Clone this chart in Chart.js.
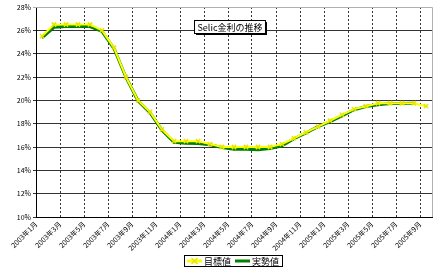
<!DOCTYPE html>
<html>
<head>
<meta charset="utf-8">
<script src="https://cdn.jsdelivr.net/npm/chart.js@4.4.1/dist/chart.umd.min.js"></script>
<style>
  html, body { margin: 0; padding: 0; background: #fff; }
</style>
</head>
<body>
<canvas id="chart" width="440" height="274"></canvas>
<script>
// ------------------------------------
// DATA
// ------------------------------------
const months = [
  "2003年1月", "2003年2月", "2003年3月", "2003年4月", "2003年5月", "2003年6月",
  "2003年7月", "2003年8月", "2003年9月", "2003年10月", "2003年11月", "2003年12月",
  "2004年1月", "2004年2月", "2004年3月", "2004年4月", "2004年5月", "2004年6月",
  "2004年7月", "2004年8月", "2004年9月", "2004年10月", "2004年11月", "2004年12月",
  "2005年1月", "2005年2月", "2005年3月", "2005年4月", "2005年5月", "2005年6月",
  "2005年7月", "2005年8月", "2005年9月",
];

// 目標値 (target)
const target = [
  25.5, 26.5, 26.5, 26.5, 26.5, 26.0, 24.5, 22.0, 20.0, 19.0, 17.5, 16.5,
  16.5, 16.5, 16.25, 16.0, 16.0, 16.0, 16.0, 16.0, 16.25, 16.75, 17.25, 17.75,
  18.25, 18.75, 19.25, 19.5, 19.75, 19.75, 19.75, 19.75, 19.5,
];

// 実勢値 (effective)
const actual = [
  25.36, 26.26, 26.32, 26.32, 26.32, 25.91, 24.44, 21.96, 19.96, 18.94, 17.44, 16.41,
  16.33, 16.30, 16.19, 15.96, 15.80, 15.80, 15.77, 15.86, 16.09, 16.71, 17.20, 17.74,
  18.17, 18.67, 19.19, 19.47, 19.63, 19.73, 19.72, 19.75,
];

const yMin = 10;
const yMax = 28;
const yStep = 2;
const titleText = "Selic金利の推移";

const jp = "'Noto Sans CJK JP', 'DejaVu Sans', sans-serif";

// ------------------------------------
// PLUGINS
// ------------------------------------
const frame = {
  id: "frame",
  afterDraw(chart) {
    const { ctx, chartArea: a } = chart;
    ctx.save();
    ctx.strokeStyle = "#b0b0b0";
    ctx.lineWidth = 1;
    ctx.beginPath();
    ctx.moveTo(a.left, a.top + 0.5);
    ctx.lineTo(a.right + 0.5, a.top + 0.5);
    ctx.lineTo(a.right + 0.5, a.bottom);
    ctx.stroke();
    ctx.restore();
  },
};

const titleBox = {
  id: "titleBox",
  afterDraw(chart) {
    const { ctx, chartArea: a } = chart;
    ctx.save();
    ctx.font = "9px " + jp;
    const w = ctx.measureText(titleText).width + 6;
    const h = 13;
    const cx = 229;
    const x = Math.round(cx - w / 2) + 0.5;
    const y = a.top + 13.5;
    ctx.fillStyle = "#000";
    ctx.fillRect(x + 1.5, y + 1.5, w, h);
    ctx.fillStyle = "#fff";
    ctx.fillRect(x, y, w, h);
    ctx.strokeStyle = "#000";
    ctx.lineWidth = 1;
    ctx.strokeRect(x, y, w, h);
    ctx.fillStyle = "#000";
    ctx.textAlign = "center";
    ctx.textBaseline = "middle";
    ctx.fillText(titleText, x + w / 2, y + h / 2 + 0.5);
    ctx.restore();
  },
};

// boxed legend under the axis labels (Excel style)
const boxLegend = {
  id: "boxLegend",
  afterDraw(chart) {
    const { ctx } = chart;
    const ds = chart.data.datasets;
    ctx.save();
    ctx.font = "9px " + jp;
    const lineLen = 15;
    const gap = 2;
    const itemGap = 4;
    const widths = ds.map((d) => lineLen + gap + ctx.measureText(d.label).width);
    const total = widths.reduce((s, w) => s + w, 0) + itemGap * (ds.length - 1) + 6;
    const cx = 233;
    const top = 255;
    const h = 11;
    const left = Math.round(cx - total / 2);
    ctx.strokeStyle = "#000";
    ctx.lineWidth = 1;
    ctx.strokeRect(left + 0.5, top + 0.5, Math.round(total), h);
    let x = left + 3;
    const yMid = top + h / 2 + 0.5;
    ds.forEach((d, i) => {
      ctx.strokeStyle = d.borderColor;
      ctx.lineWidth = 3;
      ctx.beginPath();
      ctx.moveTo(x, yMid);
      ctx.lineTo(x + lineLen, yMid);
      ctx.stroke();
      if (d.pointRadius > 0) {
        const r = d.pointRadius;
        const mx = x + lineLen / 2;
        ctx.strokeStyle = d.pointBorderColor;
        ctx.lineWidth = d.pointBorderWidth;
        ctx.beginPath();
        ctx.moveTo(mx - r, yMid - r); ctx.lineTo(mx + r, yMid + r);
        ctx.moveTo(mx - r, yMid + r); ctx.lineTo(mx + r, yMid - r);
        ctx.stroke();
      }
      ctx.fillStyle = "#000";
      ctx.textAlign = "left";
      ctx.textBaseline = "middle";
      ctx.fillText(d.label, x + lineLen + gap, yMid + 0.5);
      x += widths[i] + itemGap;
    });
    ctx.restore();
  },
};

// ------------------------------------
// CHART
// ------------------------------------
const ctx = document.getElementById("chart").getContext("2d");

window.myChart = new Chart(ctx, {
  type: "line",
  data: {
    datasets: [
      {
        label: "目標値",
        data: target.map((v, i) => ({ x: i + 0.5, y: v })),
        borderColor: "#ffff00",
        backgroundColor: "#ffff00",
        borderWidth: 2,
        pointStyle: "crossRot",
        pointRadius: 3,
        pointBorderColor: "#e6e600",
        pointBorderWidth: 1.5,
        tension: 0,
        order: 1,
      },
      {
        label: "実勢値",
        data: actual.map((v, i) => ({ x: i + 0.5, y: v })),
        borderColor: "#008000",
        backgroundColor: "#008000",
        borderWidth: 3,
        pointRadius: 0,
        tension: 0,
        order: 2,
      },
    ],
  },
  options: {
    responsive: false,
    animation: false,
    layout: { padding: { left: 0, right: 8, top: 7, bottom: 21 } },
    plugins: {
      title: { display: false },
      tooltip: { enabled: false },
      legend: { display: false },
    },
    scales: {
      x: {
        type: "linear",
        min: 0,
        max: months.length,
        afterFit(scale) { scale.height = 36; },
        ticks: {
          stepSize: 2,
          includeBounds: false,
          autoSkip: false,
          maxRotation: 45,
          minRotation: 45,
          padding: 3,
          font: { family: jp, size: 7 },
          color: "#000",
          callback: (v) => (Number.isInteger(v) && v % 2 === 0 && months[v]) ? months[v] : "",
        },
        grid: {
          color: (c) => (c.tick && c.tick.value === 0 ? "rgba(0,0,0,0)" : "#333"),
          lineWidth: 1,
          drawTicks: false,
        },
        border: { display: true, color: "#000", width: 1, dash: [2, 2] },
      },
      y: {
        min: yMin,
        max: yMax,
        afterFit(scale) { scale.width = 36; },
        ticks: {
          stepSize: yStep,
          padding: 2,
          font: { family: jp, size: 7 },
          color: "#000",
          callback: (v) => v + "%",
        },
        grid: {
          color: (c) => (c.tick && c.tick.value === yMax ? "#b0b0b0" : "#333"),
          lineWidth: 1,
          drawTicks: true,
          tickLength: 3,
        },
        border: { display: true, color: "#000", width: 1 },
      },
    },
  },
  plugins: [frame, titleBox, boxLegend],
});
</script>
</body>
</html>
